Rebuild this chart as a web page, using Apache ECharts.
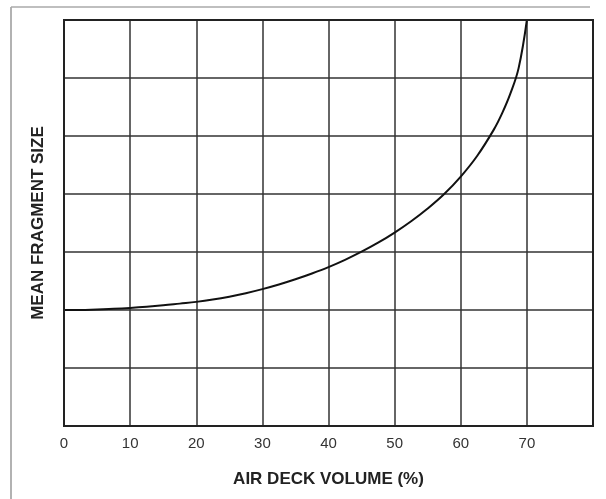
<!DOCTYPE html>
<html>
<head>
<meta charset="utf-8">
<script src="https://cdn.jsdelivr.net/npm/echarts@6/dist/echarts.min.js"></script>
<style>
  html, body { margin: 0; padding: 0; background: #fff; }
  #chart { width: 606px; height: 499px; }
</style>
</head>
<body>
<div id="chart"></div>
<script>
// air deck volume (%) and mean fragment size (relative, grid units)
const airDeck = [0, 2.5, 5, 7.5, 10, 12.5, 15, 17.5, 20, 22.5, 25, 27.5, 30, 32.5, 35, 37.5,
  40, 42.5, 45, 47.5, 50, 52.5, 55, 57.5, 60, 62.5, 65, 66.25, 67.5, 68.75, 70];
const fragSize = [2.0, 2.0, 2.01, 2.02, 2.035, 2.055, 2.08, 2.11, 2.14, 2.18, 2.23, 2.29, 2.36, 2.44, 2.53, 2.63,
  2.74, 2.865, 3.005, 3.16, 3.335, 3.53, 3.75, 4.0, 4.3, 4.66, 5.11, 5.39, 5.73, 6.17, 7.0];
const xTicks = ["0", "10", "20", "30", "40", "50", "60", "70"];

const chart = echarts.init(document.getElementById("chart"));

const option = {
  animation: false,
  backgroundColor: "#fff",
  grid: { left: 64, right: 13, top: 20, bottom: 73 },
  graphic: [
    // scanned page frame
    { type: "line", shape: { x1: 11, y1: 7, x2: 11, y2: 499 }, style: { stroke: "#999", lineWidth: 1.5 } },
    { type: "line", shape: { x1: 11, y1: 7, x2: 590, y2: 7 }, style: { stroke: "#aaa", lineWidth: 1.5 } },
    // plot frame
    { type: "rect", shape: { x: 64, y: 20, width: 529, height: 406 }, style: { fill: "none", stroke: "#222", lineWidth: 2 }, z: 10 },
  ],
  xAxis: {
    type: "value",
    min: 0,
    max: 80,
    interval: 10,
    name: "AIR DECK VOLUME (%)",
    nameLocation: "middle",
    nameGap: 45,
    nameTextStyle: { fontFamily: "Liberation Sans", fontWeight: "bold", fontSize: 17, color: "#222" },
    axisLine: { show: true, lineStyle: { color: "#222", width: 2 } },
    axisTick: { show: false },
    axisLabel: {
      margin: 10,
      fontFamily: "Liberation Sans",
      fontSize: 15,
      color: "#333",
      formatter: (v) => (xTicks.includes(String(v)) ? String(v) : ""),
    },
    splitLine: { show: true, lineStyle: { color: "#333", width: 1.5 } },
  },
  yAxis: {
    type: "value",
    min: 0,
    max: 7,
    interval: 1,
    name: "MEAN FRAGMENT SIZE",
    nameLocation: "middle",
    nameGap: 17,
    nameTextStyle: { fontFamily: "Liberation Sans", fontWeight: "bold", fontSize: 17, color: "#222" },
    axisLine: { show: true, lineStyle: { color: "#222", width: 2 } },
    axisTick: { show: false },
    axisLabel: { show: false },
    splitLine: { show: true, lineStyle: { color: "#333", width: 1.5 } },
  },
  series: [
    {
      type: "line",
      data: airDeck.map((x, i) => [x, fragSize[i]]),
      smooth: 0.4,
      symbol: "none",
      lineStyle: { color: "#111", width: 2 },
    },
  ],
};

chart.setOption(option);
</script>
</body>
</html>
